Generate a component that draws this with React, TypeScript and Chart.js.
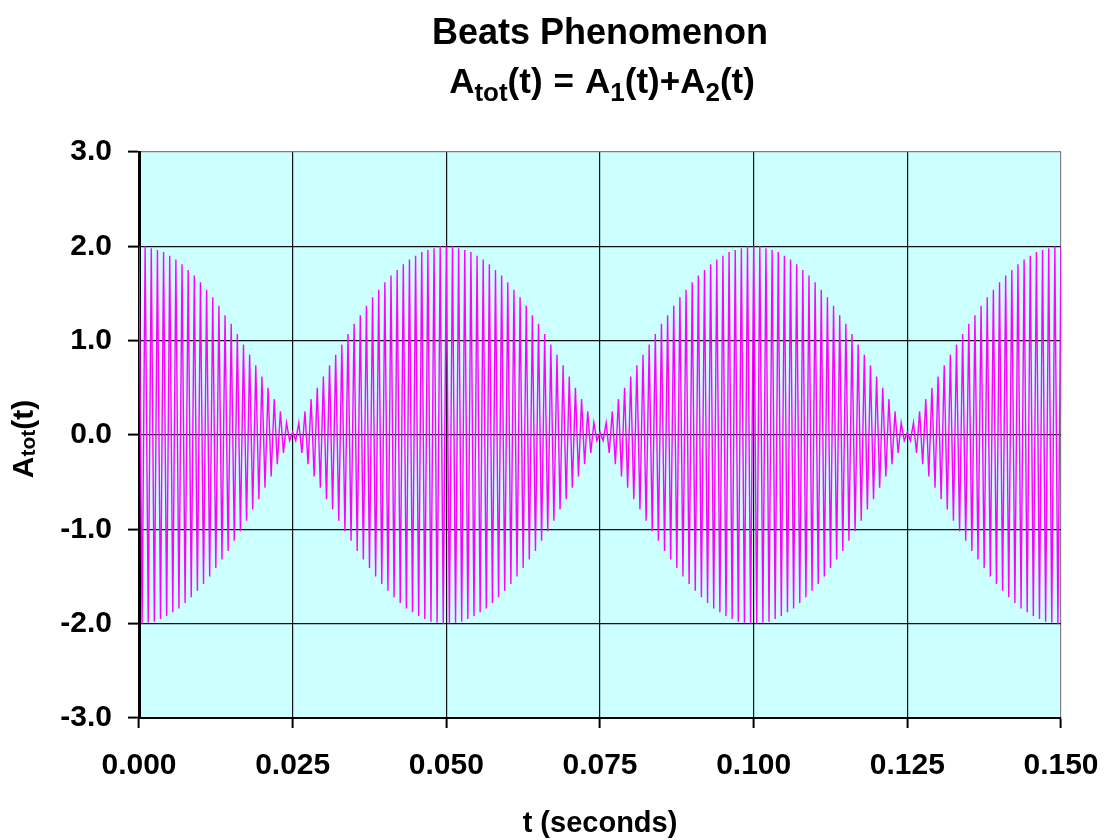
import React, { useEffect, useRef } from 'react';
import { Chart, registerables } from 'chart.js';

Chart.register(...registerables);

// Time between successive plotted samples (peak / trough of the carrier), seconds
const T_STEP = 0.0005;

// Sample values, lobe by lobe (alternating peak / trough)
const lobe1 = [
  2.0, -2.0, 2.0, -1.99, 1.98, -1.98, 1.96, -1.95, 1.94, -1.92,
  1.9, -1.88, 1.86, -1.84, 1.81, -1.78, 1.75, -1.72, 1.69, -1.65,
  1.62, -1.58, 1.54, -1.5, 1.46, -1.41, 1.37, -1.32, 1.27, -1.23,
  1.18, -1.12, 1.07, -1.02, 0.96, -0.91, 0.85, -0.79, 0.74, -0.68,
  0.62, -0.56, 0.5, -0.44, 0.38, -0.31, 0.25, -0.19, 0.13, -0.06,
];
const lobe2 = [
  0.03, -0.06, 0.13, -0.19, 0.25, -0.31, 0.38, -0.44, 0.5, -0.56,
  0.62, -0.68, 0.74, -0.79, 0.85, -0.91, 0.96, -1.02, 1.07, -1.12,
  1.18, -1.23, 1.27, -1.32, 1.37, -1.41, 1.46, -1.5, 1.54, -1.58,
  1.62, -1.65, 1.69, -1.72, 1.75, -1.78, 1.81, -1.84, 1.86, -1.88,
  1.9, -1.92, 1.94, -1.95, 1.96, -1.98, 1.98, -1.99, 2.0, -2.0,
  2.0, -2.0, 2.0, -1.99, 1.98, -1.98, 1.96, -1.95, 1.94, -1.92,
  1.9, -1.88, 1.86, -1.84, 1.81, -1.78, 1.75, -1.72, 1.69, -1.65,
  1.62, -1.58, 1.54, -1.5, 1.46, -1.41, 1.37, -1.32, 1.27, -1.23,
  1.18, -1.12, 1.07, -1.02, 0.96, -0.91, 0.85, -0.79, 0.74, -0.68,
  0.62, -0.56, 0.5, -0.44, 0.38, -0.31, 0.25, -0.19, 0.13, -0.06,
];
const lobe3 = [
  0.03, -0.06, 0.13, -0.19, 0.25, -0.31, 0.38, -0.44, 0.5, -0.56,
  0.62, -0.68, 0.74, -0.79, 0.85, -0.91, 0.96, -1.02, 1.07, -1.12,
  1.18, -1.23, 1.27, -1.32, 1.37, -1.41, 1.46, -1.5, 1.54, -1.58,
  1.62, -1.65, 1.69, -1.72, 1.75, -1.78, 1.81, -1.84, 1.86, -1.88,
  1.9, -1.92, 1.94, -1.95, 1.96, -1.98, 1.98, -1.99, 2.0, -2.0,
  2.0, -2.0, 2.0, -1.99, 1.98, -1.98, 1.96, -1.95, 1.94, -1.92,
  1.9, -1.88, 1.86, -1.84, 1.81, -1.78, 1.75, -1.72, 1.69, -1.65,
  1.62, -1.58, 1.54, -1.5, 1.46, -1.41, 1.37, -1.32, 1.27, -1.23,
  1.18, -1.12, 1.07, -1.02, 0.96, -0.91, 0.85, -0.79, 0.74, -0.68,
  0.62, -0.56, 0.5, -0.44, 0.38, -0.31, 0.25, -0.19, 0.13, -0.06,
];
const lobe4 = [
  0.03, -0.06, 0.13, -0.19, 0.25, -0.31, 0.38, -0.44, 0.5, -0.56,
  0.62, -0.68, 0.74, -0.79, 0.85, -0.91, 0.96, -1.02, 1.07, -1.12,
  1.18, -1.23, 1.27, -1.32, 1.37, -1.41, 1.46, -1.5, 1.54, -1.58,
  1.62, -1.65, 1.69, -1.72, 1.75, -1.78, 1.81, -1.84, 1.86, -1.88,
  1.9, -1.92, 1.94, -1.95, 1.96, -1.98, 1.98, -1.99, 2.0, -2.0,
  2.0,
];

const X_TICKS = [0, 0.025, 0.05, 0.075, 0.1, 0.125, 0.15];
const Y_TICKS = [-3, -2, -1, 0, 1, 2, 3];

// gap: extra horizontal space (px) before a piece of text
type Part = { text: string; sub?: boolean; gap?: number };
const TITLE_LINE1 = 'Beats Phenomenon';
const TITLE_LINE2: Part[] = [
  { text: 'A' }, { text: 'tot', sub: true }, { text: '(t)' }, { text: '=', gap: 11 },
  { text: 'A', gap: 11 }, { text: '1', sub: true }, { text: '(t)+A' }, { text: '2', sub: true }, { text: '(t)' },
];
const X_TITLE = 't (seconds)';
const Y_TITLE: Part[] = [{ text: 'A' }, { text: 'tot', sub: true }, { text: '(t)' }];

const FONT = '"Liberation Sans", Arial, sans-serif';

function drawRich(
  ctx: CanvasRenderingContext2D, parts: Part[], cx: number, baseline: number,
  size: number, subSize: number, subDrop: number,
) {
  const widths = parts.map((p) => {
    ctx.font = `bold ${p.sub ? subSize : size}px ${FONT}`;
    return ctx.measureText(p.text).width + (p.gap || 0);
  });
  const total = widths.reduce((a, b) => a + b, 0);
  let x = cx - total / 2;
  ctx.textAlign = 'left';
  ctx.textBaseline = 'alphabetic';
  parts.forEach((p, i) => {
    ctx.font = `bold ${p.sub ? subSize : size}px ${FONT}`;
    ctx.fillText(p.text, x + (p.gap || 0), baseline + (p.sub ? subDrop : 0));
    x += widths[i];
  });
}

const decorPlugin = {
  id: 'decor',
  beforeDraw(chart: any) {
    const { ctx, chartArea } = chart;
    ctx.save();
    ctx.fillStyle = '#CCFFFF';
    ctx.fillRect(chartArea.left, chartArea.top, chartArea.right - chartArea.left, chartArea.bottom - chartArea.top);
    ctx.restore();
  },
  afterDraw(chart: any) {
    const { ctx, chartArea } = chart;
    const cx = (chartArea.left + chartArea.right) / 2;
    const cy = (chartArea.top + chartArea.bottom) / 2;
    ctx.save();
    ctx.fillStyle = '#000';
    ctx.font = `bold 36px ${FONT}`;
    ctx.textAlign = 'center';
    ctx.textBaseline = 'alphabetic';
    ctx.fillText(TITLE_LINE1, cx, 44);
    drawRich(ctx, TITLE_LINE2, cx + 2, 93, 35, 26, 8);
    ctx.font = `bold 29px ${FONT}`;
    ctx.textAlign = 'center';
    ctx.fillText(X_TITLE, cx, 832);
    ctx.translate(33, cy + 4);
    ctx.rotate(-Math.PI / 2);
    drawRich(ctx, Y_TITLE, 0, 0, 30, 21, 2);
    ctx.restore();
  },
};

export default function App() {
  const ref = useRef<HTMLCanvasElement | null>(null);
  useEffect(() => {
    document.body.style.margin = '0';
    const values = [...lobe1, ...lobe2, ...lobe3, ...lobe4];
    const points = values.map((v, i) => ({ x: i * T_STEP, y: v }));
    const tickFont = { family: FONT, weight: 'bold' as const, size: 30 };
    const chart = new Chart(ref.current as HTMLCanvasElement, {
      type: 'line',
      data: {
        datasets: [{
          data: points,
          borderColor: '#FF00FF',
          borderWidth: 1.4,
          pointRadius: 0,
          tension: 0,
          fill: false,
        }],
      },
      options: {
        responsive: false,
        animation: false,
        events: [],
        layout: { padding: { top: 152, right: 44, left: 0, bottom: 0 } },
        plugins: { legend: { display: false }, title: { display: false }, tooltip: { enabled: false } },
        scales: {
          x: {
            type: 'linear',
            min: 0,
            max: 0.15,
            afterBuildTicks: (axis: any) => { axis.ticks = X_TICKS.map((v) => ({ value: v })); },
            afterFit: (axis: any) => {
              axis.height = 122;
              axis.paddingLeft = 0;
              axis.paddingRight = 0;
            },
            ticks: {
              font: tickFont,
              color: '#000',
              padding: 20,
              maxRotation: 0,
              autoSkip: false,
              callback: (v: any) => Number(v).toFixed(3),
            },
            grid: {
              color: (c: any) => (c.tick && c.tick.value === 0.15 ? '#808080' : '#111'),
              lineWidth: 1.2,
              tickLength: 10,
              tickColor: '#000',
              tickWidth: 2,
            },
            border: { display: true, color: '#000', width: 2 },
          },
          y: {
            type: 'linear',
            min: -3,
            max: 3,
            afterBuildTicks: (axis: any) => { axis.ticks = Y_TICKS.map((v) => ({ value: v })); },
            afterFit: (axis: any) => {
              axis.width = 139;
              axis.paddingTop = 0;
              axis.paddingBottom = 0;
            },
            ticks: {
              font: tickFont,
              color: '#000',
              padding: 16,
              autoSkip: false,
              callback: (v: any) => Number(v).toFixed(1),
            },
            grid: {
              color: (c: any) => (c.tick && c.tick.value === 3 ? '#808080' : '#111'),
              lineWidth: 1.2,
              tickLength: 11,
              tickColor: '#000',
              tickWidth: 2,
            },
            border: { display: true, color: '#000', width: 3 },
          },
        },
      },
      plugins: [decorPlugin],
    });
    return () => chart.destroy();
  }, []);
  return (
    <div style={{ width: 1105, height: 840 }}>
      <canvas ref={ref} width={1105} height={840} style={{ width: 1105, height: 840, display: 'block' }} />
    </div>
  );
}
